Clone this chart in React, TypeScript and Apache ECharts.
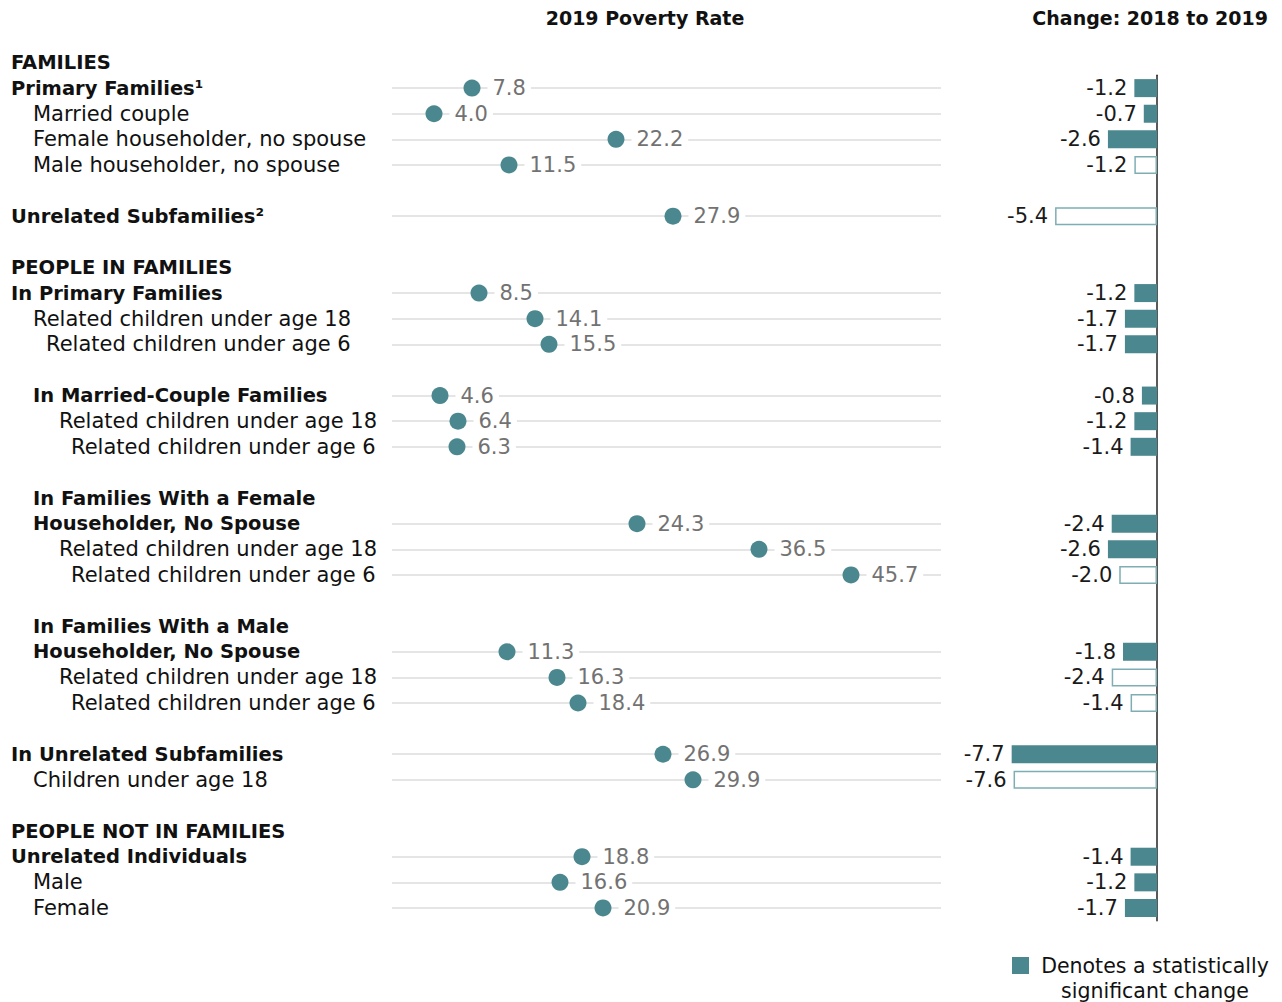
import React, { useEffect, useRef } from "react";
import * as echarts from "echarts";

const rowLabels = [
  "FAMILIES", "Primary Families¹", "Married couple", "Female householder, no spouse", "Male householder, no spouse", "",
  "Unrelated Subfamilies²", "",
  "PEOPLE IN FAMILIES", "In Primary Families", "Related children under age 18", "Related children under age 6", "",
  "In Married-Couple Families", "Related children under age 18", "Related children under age 6", "",
  "In Families With a Female", "Householder, No Spouse", "Related children under age 18", "Related children under age 6", "",
  "In Families With a Male", "Householder, No Spouse", "Related children under age 18", "Related children under age 6", "",
  "In Unrelated Subfamilies", "Children under age 18", "",
  "PEOPLE NOT IN FAMILIES", "Unrelated Individuals", "Male", "Female",
];
const rowBold = [1,1,0,0,0,0,1,0,1,1,0,0,0,1,0,0,0,1,1,0,0,0,1,1,0,0,0,1,0,0,1,1,0,0];
const rowIndent = [0,0,22,22,22,0,0,0,0,0,22,35,0,22,48,60,0,22,22,48,60,0,22,22,48,60,0,0,22,0,0,0,22,22];

const povertyRate2019: (number | null)[] = [
  null, 7.8, 4.0, 22.2, 11.5, null, 27.9, null,
  null, 8.5, 14.1, 15.5, null, 4.6, 6.4, 6.3, null,
  null, 24.3, 36.5, 45.7, null, null, 11.3, 16.3, 18.4, null,
  26.9, 29.9, null, null, 18.8, 16.6, 20.9,
];
const change2018to2019: (number | null)[] = [
  null, -1.2, -0.7, -2.6, -1.2, null, -5.4, null,
  null, -1.2, -1.7, -1.7, null, -0.8, -1.2, -1.4, null,
  null, -2.4, -2.6, -2.0, null, null, -1.8, -2.4, -1.4, null,
  -7.7, -7.6, null, null, -1.4, -1.2, -1.7,
];
const significant: (boolean | null)[] = [
  null, true, true, true, false, null, false, null,
  null, true, true, true, null, true, true, true, null,
  null, true, true, false, null, null, true, false, false, null,
  true, false, null, null, true, true, true,
];

const TEAL = "#4b878e";
const FONT = "DejaVu Sans";
const FS = 21;
const FS_BOLD = 19.5;

export default function App() {
  const ref = useRef<HTMLDivElement>(null);
  useEffect(() => {
    const chart = echarts.init(ref.current!, null, { renderer: "svg" });
    const rowH = 25.62;
    const firstRow = 62.5;
    const n = rowLabels.length;
    const rich: any = {};
    rowLabels.forEach((_, i) => {
      const key = (rowBold[i] ? "b" : "n") + rowIndent[i];
      rich[key] = {
        fontFamily: FONT,
        fontSize: rowBold[i] ? FS_BOLD : FS,
        fontWeight: rowBold[i] ? "bold" : "normal",
        color: "#111",
        padding: [0, 0, 0, rowIndent[i]],
      };
    });
    const cats = rowLabels.map((_, i) => String(i));
    const cats2 = cats.slice(1);

    const dotData: any[] = [];
    const lineData: any[] = [];
    povertyRate2019.forEach((v, i) => {
      if (v == null) return;
      dotData.push({ value: [v, String(i)] });
      lineData.push([{ coord: [-0.2, String(i)] }, { coord: [54.7, String(i)] }]);
    });
    const barData: any[] = change2018to2019.slice(1).map((v, j) => {
      const i = j + 1;
      if (v == null) return { value: null };
      return {
        value: v,
        itemStyle: significant[i]
          ? { color: TEAL }
          : { color: "#fff", borderColor: "#7eaeb3", borderWidth: 1.5 },
      };
    });

    chart.setOption({
      animation: false,
      grid: [
        { left: 392, width: 549, top: firstRow - rowH / 2, height: rowH * n },
        { left: 1006, width: 151, top: firstRow + rowH / 2, height: rowH * (n - 1) },
      ],
      xAxis: [
        { gridIndex: 0, type: "value", min: -0.2, max: 54.7, show: false },
        { gridIndex: 1, type: "value", min: -8, max: 0, show: false },
      ],
      yAxis: [
        {
          gridIndex: 0,
          type: "category",
          data: cats,
          inverse: true,
          axisLine: { show: false },
          axisTick: { show: false },
          splitLine: { show: false },
          axisLabel: {
            interval: 0,
            align: "left",
            margin: 381,
            formatter: (_v: string, idx: number) =>
              rowLabels[idx] ? `{${(rowBold[idx] ? "b" : "n") + rowIndent[idx]}|${rowLabels[idx]}}` : "",
            rich,
          },
        },
        {
          gridIndex: 1,
          type: "category",
          data: cats2,
          inverse: true,
          position: "right",
          axisLine: { show: true, onZero: false, lineStyle: { color: "#222", width: 1.5 } },
          axisTick: { show: false },
          axisLabel: { show: false },
          splitLine: { show: false },
        },
      ],
      series: [
        {
          type: "scatter",
          xAxisIndex: 0,
          yAxisIndex: 0,
          data: [],
          z: 1,
          silent: true,
          markLine: {
            silent: true,
            symbol: "none",
            label: { show: false },
            lineStyle: { color: "#dcdcdc", width: 1.5, type: "solid" },
            data: lineData,
          },
        },
        {
          type: "scatter",
          xAxisIndex: 0,
          yAxisIndex: 0,
          z: 5,
          symbolSize: 17,
          itemStyle: { color: TEAL, opacity: 1 },
          data: dotData,
          label: {
            show: true,
            position: "right",
            distance: 7,
            formatter: (p: any) => p.value[0].toFixed(1),
            color: "#727272",
            fontFamily: FONT,
            fontSize: FS,
            backgroundColor: "#fff",
            padding: [0, 5, 0, 5],
          },
        },
        {
          type: "bar",
          xAxisIndex: 1,
          yAxisIndex: 1,
          barWidth: 18,
          data: barData,
          label: {
            show: true,
            position: "left",
            distance: 7,
            formatter: (p: any) => (p.value == null ? "" : Number(p.value).toFixed(1)),
            color: "#1a1a1a",
            fontFamily: FONT,
            fontSize: FS,
          },
        },
      ],
      graphic: [
        {
          type: "text",
          x: 645,
          y: 18,
          style: {
            text: "2019 Poverty Rate",
            textAlign: "center",
            textVerticalAlign: "middle",
            font: `bold 19px "${FONT}"`,
            fill: "#111",
          },
        },
        {
          type: "text",
          x: 1268,
          y: 18,
          style: {
            text: "Change: 2018 to 2019",
            textAlign: "right",
            textVerticalAlign: "middle",
            font: `bold 19px "${FONT}"`,
            fill: "#111",
          },
        },
        {
          type: "rect",
          shape: { x: 1012, y: 957, width: 17, height: 17 },
          style: { fill: TEAL },
        },
        {
          type: "text",
          x: 1155,
          y: 953,
          style: {
            text: "Denotes a statistically\nsignificant change",
            textAlign: "center",
            textVerticalAlign: "top",
            font: `20.5px "${FONT}"`,
            lineHeight: 25,
            fill: "#111",
          },
        },
      ],
    });
    return () => chart.dispose();
  }, []);
  return (
    <div
      ref={ref}
      style={{ position: "fixed", left: 0, top: 0, width: 1282, height: 1002, background: "#fff" }}
    />
  );
}
